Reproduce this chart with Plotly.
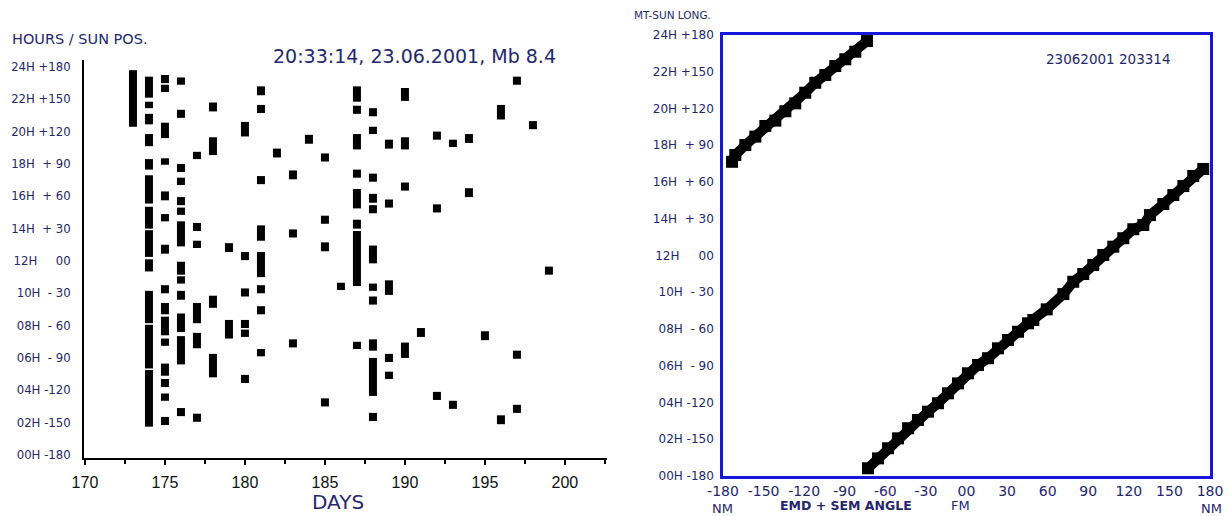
import plotly.graph_objects as go

W, H = 1232, 516

# ---------------- Left panel data: event segments (day, start hour, end hour)
event_day = (
    [173]
    + [174] * 12
    + [175] * 15
    + [176] * 13
    + [177] * 6
    + [178] * 4
    + [179] * 2
    + [180] * 6
    + [181] * 8
    + [182]
    + [183] * 3
    + [184]
    + [185] * 4
    + [186]
    + [187] * 8
    + [188] * 11
    + [189] * 5
    + [190] * 4
    + [191]
    + [192] * 3
    + [193] * 2
    + [194] * 2
    + [195]
    + [196] * 2
    + [197] * 3
    + [198]
    + [199]
)
event_start = [
    20.3,
    22.1, 21.45, 20.45, 19.1, 17.65, 15.55, 14.0, 12.25, 11.35, 8.15, 5.35, 1.75,
    23.0, 22.45, 19.6, 17.95, 15.75, 14.45, 12.45, 10.0, 8.7, 7.4, 6.75, 4.9, 4.2, 3.35, 1.85,
    22.9, 20.85, 17.5, 16.7, 15.45, 14.85, 12.9, 11.15, 10.6, 9.6, 7.6, 5.6, 2.4,
    18.3, 13.85, 12.8, 8.15, 6.6, 2.05,
    21.25, 18.55, 9.1, 4.8,
    12.55, 7.2,
    19.7, 12.05, 9.8, 7.85, 7.3, 4.45,
    22.25, 21.15, 16.75, 13.25, 11.0, 10.0, 8.7, 6.1,
    18.4,
    17.05, 13.45, 6.65,
    19.25,
    18.15, 14.3, 12.6, 3.0,
    10.2,
    21.85, 21.1, 18.9, 17.15, 15.25, 14.0, 10.45, 6.55,
    20.95, 19.85, 16.9, 15.6, 14.95, 11.85, 10.15, 9.3, 6.45, 3.65, 2.1,
    18.95, 15.3, 9.9, 5.75, 4.7,
    21.9, 18.9, 16.35, 6.0,
    7.3,
    19.5, 15.0, 3.4,
    19.05, 2.85,
    19.3, 15.95,
    7.1,
    20.75, 1.9,
    22.9, 5.95, 2.6,
    20.15,
    11.15,
]
event_end = [
    23.8,
    23.4, 21.85, 21.1, 19.85, 18.3, 17.3, 15.35, 13.9, 12.1, 10.15, 8.05, 5.25,
    23.5, 22.9, 20.55, 18.35, 16.3, 14.9, 13.0, 10.5, 9.4, 8.55, 7.2, 5.65, 4.7, 3.8, 2.35,
    23.35, 21.35, 18.0, 17.15, 15.95, 15.3, 14.45, 11.95, 11.05, 10.15, 8.75, 7.35, 2.9,
    18.75, 14.35, 13.25, 9.4, 7.55, 2.55,
    21.8, 19.65, 9.85, 6.25,
    13.1, 8.35,
    20.6, 12.55, 10.3, 8.35, 7.75, 4.95,
    22.8, 21.65, 17.25, 14.2, 12.55, 10.5, 9.2, 6.55,
    18.95,
    17.6, 13.95, 7.15,
    19.8,
    18.65, 14.8, 13.15, 3.5,
    10.65,
    22.8, 21.6, 19.85, 17.65, 16.45, 14.55, 13.85, 7.0,
    21.45, 20.3, 17.4, 16.15, 15.45, 12.95, 10.6, 9.8, 7.15, 6.0, 2.6,
    19.5, 15.8, 10.8, 6.25, 5.15,
    22.7, 19.65, 16.85, 6.95,
    7.85,
    20.0, 15.5, 3.9,
    19.5, 3.35,
    19.85, 16.5,
    7.65,
    21.65, 2.45,
    23.4, 6.45, 3.1,
    20.65,
    11.65,
]

day_ticks = [170, 175, 180, 185, 190, 195, 200]
hour_ticks = [0, 2, 4, 6, 8, 10, 12, 14, 16, 18, 20, 22, 24]
NB = "\u00a0"
hour_labels = [
    "00H" + NB + "-180",
    "02H" + NB + "-150",
    "04H" + NB + "-120",
    "06H" + NB * 2 + "-" + NB + "90",
    "08H" + NB * 2 + "-" + NB + "60",
    "10H" + NB * 2 + "-" + NB + "30",
    "12H" + NB * 5 + "00",
    "14H" + NB * 2 + "+" + NB + "30",
    "16H" + NB * 2 + "+" + NB + "60",
    "18H" + NB * 2 + "+" + NB + "90",
    "20H" + NB + "+120",
    "22H" + NB + "+150",
    "24H" + NB + "+180",
]

# ---------------- Right panel data: EMD + SEM angle vs GMT hour
angle_ticks = [-180, -150, -120, -90, -60, -30, 0, 30, 60, 90, 120, 150, 180]
angle_labels = ["-180", "-150", "-120", "-90", "-60", "-30", "00",
                "30", "60", "90", "120", "150", "180"]

lower_angle = [-72.8, -65.4, -58.0, -50.6, -43.2, -35.9, -28.5, -21.1, -13.7, -6.3,
               1.1, 8.5, 15.9, 23.3, 30.7, 38.1, 45.5, 49.4, 59.3, 71.6, 78.9, 86.3,
               93.7, 101.1, 108.5, 115.9, 123.3, 130.7, 135.6, 145.5, 152.9, 160.3,
               167.6, 175.0]
lower_hour = [0.42, 0.96, 1.51, 2.05, 2.60, 3.05, 3.50, 3.96, 4.50, 5.04,
              5.59, 6.04, 6.41, 6.95, 7.40, 7.85, 8.31, 8.49, 9.07, 9.90, 10.57, 10.99,
              11.48, 12.03, 12.48, 12.94, 13.43, 13.66, 14.20, 14.80, 15.29, 15.78,
              16.33, 16.71]
upper_angle = [-173.3, -170.9, -163.5, -156.1, -148.7, -141.3, -133.9, -126.6,
               -119.2, -111.8, -104.4, -97.0, -89.6, -82.2, -73.6]
upper_hour = [17.10, 17.47, 18.01, 18.47, 19.05, 19.34, 19.85, 20.28,
              20.86, 21.40, 21.82, 22.31, 22.68, 23.09, 23.67]

NAVY = "#24276e"
BLUE = "#1515dc"
FONT = "DejaVu Sans"


def px(x):
    return x / W


def py(y):
    return 1 - y / H


fig = go.Figure()

fig.add_trace(go.Bar(
    x=event_day,
    base=event_start,
    y=[e - s for s, e in zip(event_start, event_end)],
    width=0.5,
    marker=dict(color="black", line=dict(width=0)),
    xaxis="x", yaxis="y",
    hoverinfo="skip",
))

for ang, hr in ((lower_angle, lower_hour), (upper_angle, upper_hour)):
    fig.add_trace(go.Scatter(
        x=ang, y=hr,
        mode="lines+markers",
        line=dict(color="black", width=10),
        marker=dict(symbol="square", size=12, color="black"),
        xaxis="x2", yaxis="y2",
        hoverinfo="skip",
    ))

fig.update_layout(
    width=W, height=H,
    autosize=False,
    margin=dict(l=0, r=0, t=0, b=0, pad=0),
    paper_bgcolor="white",
    plot_bgcolor="white",
    showlegend=False,
    barmode="overlay",
    xaxis=dict(
        domain=[px(84), px(607)],
        range=[169.94, 202.63],
        tickmode="linear", tick0=170, dtick=5,
        ticks="outside", ticklen=5, tickwidth=1.5, tickcolor="black",
        minor=dict(tick0=170, dtick=2.5, ticks="outside", ticklen=4,
                   tickwidth=1.5, tickcolor="black", showgrid=False),
        showline=True, linecolor="black", linewidth=2,
        showgrid=False, zeroline=False,
        tickfont=dict(family="Liberation Sans", size=16, color="#111111"),
        ticklabelstandoff=4,
        anchor="y",
        automargin=False,
        fixedrange=True,
    ),
    yaxis=dict(
        domain=[py(458), py(60)],
        range=[-0.19, 24.43],
        tickmode="array", tickvals=hour_ticks, ticktext=hour_labels,
        ticks="",
        showline=True, linecolor="black", linewidth=2,
        showgrid=False, zeroline=False,
        tickfont=dict(family=FONT, size=11.7, color=NAVY),
        ticklabelstandoff=9,
        anchor="x",
        automargin=False,
        fixedrange=True,
    ),
    xaxis2=dict(
        domain=[px(723), px(1210)],
        range=[-180, 180],
        tickmode="array", tickvals=angle_ticks, ticktext=angle_labels,
        ticks="",
        showline=True, mirror=True, linecolor=BLUE, linewidth=2.5,
        showgrid=False, zeroline=False,
        tickfont=dict(family=FONT, size=14, color=NAVY),
        anchor="y2",
        automargin=False,
        fixedrange=True,
    ),
    yaxis2=dict(
        domain=[py(476), py(35)],
        range=[0, 24],
        tickmode="array", tickvals=hour_ticks, ticktext=hour_labels,
        ticks="",
        showline=True, mirror=True, linecolor=BLUE, linewidth=2.5,
        showgrid=False, zeroline=False,
        tickfont=dict(family=FONT, size=12, color=NAVY),
        ticklabelstandoff=4,
        anchor="x2",
        automargin=False,
        fixedrange=True,
    ),
)

ann = [
    dict(text="HOURS / SUN POS.", x=px(10), y=py(39), xanchor="left", yanchor="middle",
         font=dict(family=FONT, size=14.5, color=NAVY)),
    dict(text="20:33:14, 23.06.2001, Mb 8.4", x=px(271), y=py(56), xanchor="left",
         yanchor="middle", font=dict(family=FONT, size=19, color=NAVY)),
    dict(text="DAYS", x=px(338), y=py(502), xanchor="center", yanchor="middle",
         font=dict(family=FONT, size=20, color=NAVY)),
    dict(text="MT-SUN LONG.", x=px(632), y=py(15), xanchor="left", yanchor="middle",
         font=dict(family=FONT, size=10.5, color=NAVY)),
    dict(text="23062001 203314", x=px(1044), y=py(59), xanchor="left", yanchor="middle",
         font=dict(family=FONT, size=13.5, color=NAVY)),
    dict(text="NM", x=px(722), y=py(508), xanchor="center", yanchor="middle",
         font=dict(family=FONT, size=13, color=NAVY)),
    dict(text="<b>EMD + SEM ANGLE</b>", x=px(846), y=py(505), xanchor="center",
         yanchor="middle", font=dict(family=FONT, size=12.5, color=NAVY)),
    dict(text="FM", x=px(960), y=py(505), xanchor="center", yanchor="middle",
         font=dict(family=FONT, size=13, color=NAVY)),
    dict(text="NM", x=px(1211), y=py(508), xanchor="center", yanchor="middle",
         font=dict(family=FONT, size=13, color=NAVY)),
]
for a in ann:
    a.update(xref="paper", yref="paper", showarrow=False)
fig.update_layout(annotations=ann)

fig.write_html(
    "out.html",
    config={"displayModeBar": False},
    post_script="document.body.style.margin='0px';document.body.style.padding='0px';",
)
